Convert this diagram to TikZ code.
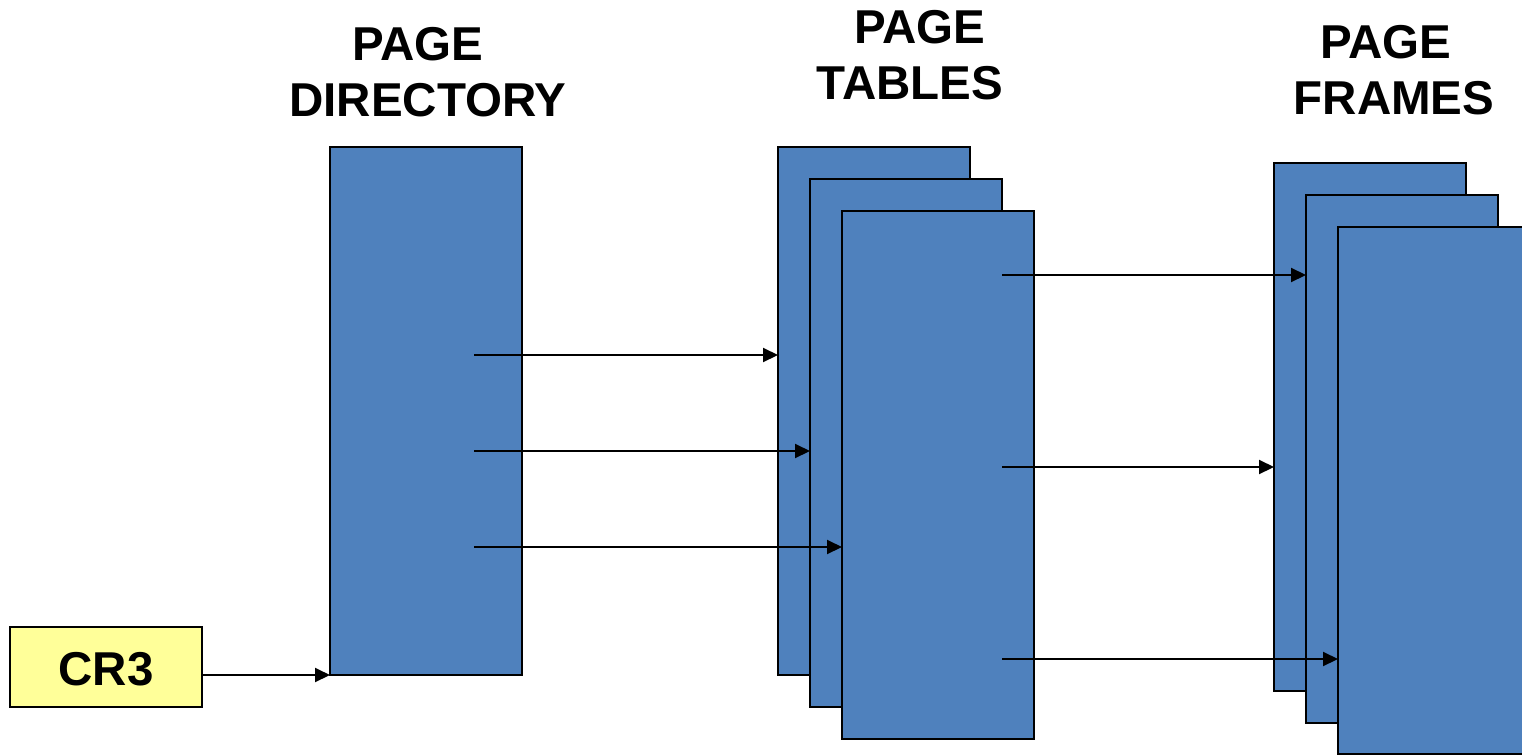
\documentclass[tikz,border=0pt]{standalone}
\usepackage{fontspec}
\setmainfont{Liberation Sans}
\usetikzlibrary{arrows.meta}
\definecolor{tblue}{HTML}{4F81BD}
\definecolor{regyellow}{HTML}{FFFF99}
\tikzset{
  tbox/.style={draw=black, line width=2pt, fill=tblue, minimum width=192pt,
    minimum height=528pt, anchor=north west, inner sep=0pt, outer sep=0pt},
  regbox/.style={draw=black, line width=1.5pt, fill=regyellow, minimum width=192pt,
    minimum height=80pt, anchor=north west, inner sep=0pt, outer sep=0pt,
    text height=36pt, text depth=0pt,
    font=\fontsize{47.5}{56}\selectfont\bfseries},
  title/.style={align=center, anchor=south, inner sep=0pt, text depth=0pt,
    font=\fontsize{47.5}{56}\selectfont\bfseries},
  ptr/.style={line width=2pt, -{Triangle[length=15pt,width=14pt]}},
}
\begin{document}
\begin{tikzpicture}[x=1pt,y=-1pt]
\useasboundingbox (0,0) rectangle (1522,755);

% headings
\node[title] (hdir) at (428,117) {PAGE\hspace*{0.44em}\\DIRECTORY};
\node[title] (htab) at (910,100) {\hspace*{0.42em}PAGE\\TABLES};
\node[title] (hfrm) at (1394,115) {PAGE\hspace*{0.34em}\\FRAMES};

% control register
\node[regbox] (cr3) at (10,627) {CR3};

% page directory
\node[tbox] (pd) at (330,147) {};

% page tables, stacked
\node[tbox] (t1) at (778,147) {};
\node[tbox] (t2) at (810,179) {};
\node[tbox] (t3) at (842,211) {};

% page frames, stacked
\node[tbox] (f1) at (1274,163) {};
\node[tbox] (f2) at (1306,195) {};
\node[tbox, minimum height=527pt] (f3) at (1338,227) {};

% pointer sources
\coordinate (c0) at ([yshift=-8pt]cr3.east);
\coordinate (d1) at (474,355);
\coordinate (d2) at (474,451);
\coordinate (d3) at (474,547);
\coordinate (e1) at (1002,275);
\coordinate (e2) at (1002,467);
\coordinate (e3) at (1002,659);

% pointers
\draw[ptr] (c0) -- (c0 -| pd.west);
\draw[ptr] (d1) -- (d1 -| t1.west);
\draw[ptr] (d2) -- (d2 -| t2.west);
\draw[ptr] (d3) -- (d3 -| t3.west);
\draw[ptr] (e1) -- (e1 -| f2.west);
\draw[ptr] (e2) -- (e2 -| f1.west);
\draw[ptr] (e3) -- (e3 -| f3.west);
\end{tikzpicture}
\end{document}
